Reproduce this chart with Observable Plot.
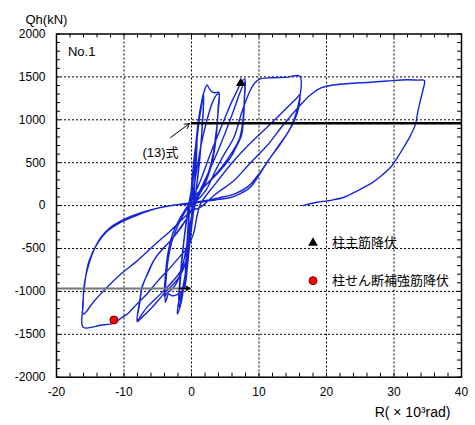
<!DOCTYPE html>
<html><head><meta charset="utf-8">
<script src="https://cdn.jsdelivr.net/npm/d3@7"></script>
<script src="https://cdn.jsdelivr.net/npm/@observablehq/plot@0.6"></script>
<style>body{margin:0;background:#fff;}</style>
</head><body><div id="chart"></div>
<script>
// hysteresis path, [R (x10^-3 rad), Qh (kN)], in loading order
const cycle1 = [[0,0],[0.2,250],[0.5,550],[0.8,780],[0.6,420],[0.3,80],[0.1,-150],[-0.3,-480],[-0.7,-780],[-0.9,-900],[-0.65,-520],[-0.35,-120],[0,220],[0.4,560],[0.85,820],[0.6,380],[0.25,20],[-0.3,-460],[-0.8,-860],[-1.0,-960],[-0.7,-480],[-0.3,-20]];
const cycle2 = [[0.2,300],[0.6,680],[1.0,980],[1.4,1170],[1.8,1300],[1.6,950],[1.2,520],[0.6,120],[0,-250],[-0.6,-640],[-1.1,-900],[-1.5,-1080],[-1.9,-1180],[-1.6,-820],[-1.1,-400],[-0.5,-60],[0.2,280],[0.8,760],[1.3,1080],[1.8,1250],[1.5,820],[0.9,320],[0.3,-60],[-0.4,-520],[-1.2,-920],[-1.9,-1120],[-1.6,-760],[-1.0,-320],[-0.4,20]];
const cycle4a = [[0.3,330],[0.8,760],[1.2,1050],[1.6,1250],[2.0,1360],[2.3,1407],[2.6,1370],[3.1,1322],[3.6,1316],[4.05,1322],[3.95,1150],[3.8,950],[3.56,800],[3.2,600],[2.5,380],[1.6,200],[0.8,70],[0.1,-150],[-0.5,-520],[-1.0,-860],[-1.5,-1120],[-1.9,-1230],[-2.1,-1263],[-1.9,-1120],[-1.6,-1011],[-2.2,-1040],[-2.9,-1050],[-3.4,-1030],[-3.7,-1090],[-3.9,-1128],[-3.8,-900],[-3.5,-650],[-2.9,-420],[-2.0,-230],[-1.0,-80],[0,60]];
const cycle4b = [[0.6,330],[1.4,700],[2.3,1000],[3.1,1200],[3.7,1290],[4.05,1300],[3.9,1050],[3.6,760],[3.0,480],[2.0,250],[1.0,100],[0.2,-60],[-0.5,-360],[-1.3,-700],[-2.2,-900],[-3.0,-980],[-3.6,-1020],[-4.0,-1060],[-3.9,-850],[-3.5,-560],[-2.8,-330],[-1.8,-160],[-0.8,-30],[0.1,80]];
const cycle8a = [[1.33,292],[2.8,603],[3.8,800],[4.8,991],[5.9,1200],[6.77,1341],[7.3,1426],[7.9,1477],[7.85,1250],[7.7,1000],[7.4,820],[6.6,680],[5.8,563],[3.8,370],[1.33,175],[0,60],[-0.5,-400],[-1.0,-700],[-2.0,-850],[-4.0,-1020],[-6.0,-1200],[-7.3,-1300],[-8.05,-1350],[-7.7,-1150],[-7.3,-953],[-6.5,-790],[-5.6,-641],[-4.3,-505],[-3.1,-408],[-1.5,-250],[-0.2,-80]];
const cycle8b = [[0.8,100],[2.0,300],[3.5,560],[5.0,850],[6.2,1100],[7.0,1280],[7.5,1380],[7.85,1440],[7.8,1200],[7.55,950],[7.1,780],[6.0,620],[4.3,430],[2.0,230],[0.5,100],[0,-150],[-0.4,-450],[-0.6,-603],[-1.9,-797],[-4.1,-991],[-6.6,-1186],[-8.0,-1330],[-7.65,-1100],[-7.3,-940],[-6.4,-780],[-5.5,-630],[-4.2,-500],[-3.0,-400],[-1.5,-240],[0,-60],[0.5,40]];
const cycle16a = [[1.3,97],[2.3,200],[3.5,400],[5.0,620],[6.3,797],[7.5,1100],[8.7,1341],[9.5,1440],[10.2,1477],[12,1490],[14,1495],[16.05,1508],[15.95,1224],[14.7,913],[13.2,730],[11.7,563],[10.2,380],[8.7,213],[7.0,130],[5.8,95],[4.0,72],[2.8,58],[-0.2,22],[-3.1,0],[-5.5,-40],[-8,-97],[-10,-160],[-12,-253],[-13.5,-380],[-14.5,-525],[-15.2,-680],[-15.7,-836],[-16,-1000],[-16.05,-1147],[-16.05,-1419]];
const cycle16b = [[-13.5,-1395],[-11.5,-1370],[-10.5,-1315],[-9.5,-1263],[-8,-1140],[-6.6,-1030],[-5,-880],[-3.1,-720],[-1.8,-600],[-0.6,-486],[0.3,-327],[0.8,-130],[1.33,19],[3.5,250],[6.3,525],[9,750],[11.2,913],[13.5,1090],[15.7,1263],[16.0,1290],[15.9,1150],[15.3,1000],[14.5,880],[13,700],[11.5,540],[10,370],[8.5,230],[6.5,140],[4,90],[1,45],[-2,12],[-5,-30],[-8,-110],[-10.5,-195],[-12.5,-300],[-14,-450],[-15.2,-650],[-15.8,-900],[-16,-1263]];
const finalPush = [[-14.5,-1120],[-13,-991],[-10.5,-800],[-8,-641],[-5.5,-460],[-3.1,-292],[-1.5,-170],[0,-60],[1.33,-19],[3.5,130],[6.3,292],[8.5,480],[11.2,700],[13.5,930],[16.1,1170],[17.6,1290],[19.1,1368],[20.6,1400],[23,1420],[26.5,1438],[29,1452],[31.95,1466],[33.5,1462],[34.5,1458],[34.3,1350],[33.9,1224],[33.5,1080],[33.2,953],[32.4,810],[31.45,680],[30.5,560],[29.5,447],[28,340],[26.5,253],[24.5,170],[22.6,97],[20.5,60],[18.6,39],[16.5,0]];

// markers
const mainBarYieldR = [7.3], mainBarYieldQ = [1426];
const hoopYieldR = [-11.5], hoopYieldQ = [-1333];
// (13)式 strength
const formulaQ = [960, -965];

// ticks
const xTicks = [-20,-10,0,10,20,30,40];
const yTicks = [-2000,-1500,-1000,-500,0,500,1000,1500,2000];
const xGrid = [-10,0,10,20,30];
const yGrid = [-1500,-1000,-500,0,500,1000,1500];
const xMinor = d3.range(-20, 41, 2);
const yMinor = d3.range(-2000, 2001, 100);

const legendLabels = ["柱主筋降伏", "柱せん断補強筋降伏"];
const legendQ = [-435, -875];
const legendR = 18;

const W = 475, H = 425, mL = 56, mR = 14, mT = 33.5, mB = 48.3;
const xDom = [-20, 40], yDom = [-2000, 2000];
const pxX = (W - mL - mR) / (xDom[1] - xDom[0]);
const pxY = (H - mT - mB) / (yDom[1] - yDom[0]);
const tickPx = 4;
const tlx = tickPx / pxX, tly = tickPx / pxY;

const path = [...cycle1, ...cycle2, ...cycle4a, ...cycle4b, ...cycle8a, ...cycle8b, ...cycle16a, ...cycle16b, ...finalPush]
  .map(([r, q]) => ({r, q}));

const blue = "#1626d6";
const font = "'Liberation Sans', 'Noto Sans CJK JP', sans-serif";
const fmt = d => String(d);

const chart = Plot.plot({
  width: W, height: H,
  marginLeft: mL, marginRight: mR, marginTop: mT, marginBottom: mB,
  style: {fontFamily: font, fontSize: "12px", background: "white", color: "#000"},
  x: {domain: xDom},
  y: {domain: yDom},
  marks: [
    Plot.ruleX(xGrid, {stroke: "#000", strokeWidth: 1, strokeDasharray: "2,2"}),
    Plot.ruleY(yGrid, {stroke: "#000", strokeWidth: 1, strokeDasharray: "2,2"}),
    Plot.ruleX(xMinor, {y1: yDom[0], y2: yDom[0] + tly, stroke: "#000"}),
    Plot.ruleX(xMinor, {y1: yDom[1], y2: yDom[1] - tly, stroke: "#000"}),
    Plot.ruleY(yMinor, {x1: xDom[0], x2: xDom[0] + tlx, stroke: "#000"}),
    Plot.ruleY(yMinor, {x1: xDom[1], x2: xDom[1] - tlx, stroke: "#000"}),
    Plot.axisX(xTicks, {tickSize: 0, tickPadding: 10, label: null, tickFormat: fmt, fontSize: 12}),
    Plot.axisY(yTicks, {tickSize: 0, tickPadding: 11, label: null, tickFormat: fmt, fontSize: 12}),
    Plot.line(path, {x: "r", y: "q", stroke: blue, strokeWidth: 1.4, curve: "catmull-rom"}),
    Plot.ruleY([formulaQ[0]], {x1: 0, x2: xDom[1], stroke: "#000", strokeWidth: 2.5}),
    Plot.ruleY([formulaQ[1]], {x1: xDom[0], x2: 0, stroke: "#777", strokeWidth: 2}),
    Plot.arrow([0], {x1: -1.8, x2: -0.3, y1: formulaQ[1], y2: formulaQ[1], stroke: "#000", strokeWidth: 1.6, headLength: 8}),
    Plot.arrow([0], {x1: -3.1, y1: 793, x2: -0.3, y2: formulaQ[0] - 4, stroke: "#000", strokeWidth: 1, headLength: 8}),
    Plot.text(["(13)式"], {x: -4.6, y: 618, text: d => d, fontSize: 13}),
    Plot.text(["No.1"], {x: -18.3, y: 1790, text: d => d, textAnchor: "start", fontSize: 13, letterSpacing: 0.5}),
    Plot.dot(mainBarYieldR, {x: d => d, y: (d, i) => mainBarYieldQ[i], symbol: "triangle", r: 3.6, fill: "#000"}),
    Plot.dot(hoopYieldR, {x: d => d, y: (d, i) => hoopYieldQ[i], r: 4, fill: "#ff0000", stroke: "#700", strokeWidth: 1}),
    Plot.dot([legendLabels[0]], {x: legendR, y: legendQ[0], symbol: "triangle", r: 3.6, fill: "#000"}),
    Plot.dot([legendLabels[1]], {x: legendR, y: legendQ[1], r: 4, fill: "#ff0000", stroke: "#700", strokeWidth: 1}),
    Plot.text(legendLabels, {x: legendR, y: (d, i) => legendQ[i], text: d => d, textAnchor: "start", dx: 19, fontSize: 13}),
    Plot.text(["Qh(kN)"], {frameAnchor: "top-left", text: d => d, textAnchor: "start", dx: -31, dy: -19.5, fontSize: 13, letterSpacing: 0.8}),
    Plot.text(["R( × 10³rad)"], {frameAnchor: "bottom-right", text: d => d, textAnchor: "end", dx: -11, dy: 40, fontSize: 14}),
    Plot.frame({stroke: "#000", strokeWidth: 1.5})
  ]
});
document.getElementById("chart").appendChild(chart);
</script>
</body></html>
